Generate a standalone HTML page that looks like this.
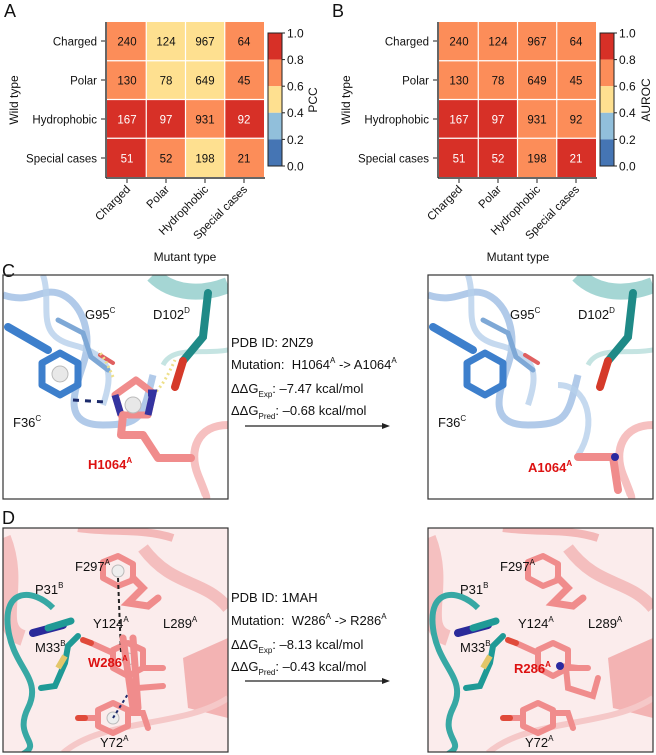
<!DOCTYPE html>
<html><head><meta charset="utf-8"><style>
html,body{margin:0;padding:0;background:#fff}
svg{display:block}
text{font-family:"Liberation Sans",Arial,sans-serif}
</style></head><body>
<svg width="656" height="755" viewBox="0 0 656 755" xmlns="http://www.w3.org/2000/svg">
<defs>
<g id="cbar">
<rect x="0" y="0" width="14" height="26.6" fill="#d73027"/>
<rect x="0" y="26.6" width="14" height="26.6" fill="#fc8d59"/>
<rect x="0" y="53.2" width="14" height="26.6" fill="#fee090"/>
<rect x="0" y="79.8" width="14" height="26.6" fill="#91bfdb"/>
<rect x="0" y="106.4" width="14" height="26.6" fill="#4575b4"/>
<rect x="0" y="0" width="14" height="133" fill="none" stroke="#222" stroke-width="1"/>
<g stroke="#222"><line x1="14" y1="0" x2="17" y2="0"/><line x1="14" y1="26.6" x2="17" y2="26.6"/><line x1="14" y1="53.2" x2="17" y2="53.2"/><line x1="14" y1="79.8" x2="17" y2="79.8"/><line x1="14" y1="106.4" x2="17" y2="106.4"/><line x1="14" y1="133" x2="17" y2="133"/></g>
<g font-size="12" fill="#111"><text x="19" y="4.5">1.0</text><text x="19" y="31">0.8</text><text x="19" y="57.5">0.6</text><text x="19" y="84">0.4</text><text x="19" y="111">0.2</text><text x="19" y="137.5">0.0</text></g>
</g>
<g id="axes">
<g font-size="11.5" fill="#111" text-anchor="end">
<text x="97" y="45.5">Charged</text><text x="97" y="84.5">Polar</text><text x="97" y="123.5">Hydrophobic</text><text x="97" y="162.5">Special cases</text>
</g>
<g stroke="#222"><line x1="101" y1="41" x2="105" y2="41"/><line x1="101" y1="80" x2="105" y2="80"/><line x1="101" y1="119" x2="105" y2="119"/><line x1="101" y1="158" x2="105" y2="158"/>
<line x1="127" y1="179" x2="127" y2="183"/><line x1="166" y1="179" x2="166" y2="183"/><line x1="205" y1="179" x2="205" y2="183"/><line x1="244" y1="179" x2="244" y2="183"/></g>
<line x1="106" y1="22" x2="106" y2="178" stroke="#333" stroke-width="1.5"/>
<line x1="106" y1="178" x2="265" y2="178" stroke="#333" stroke-width="1.5"/>
<g font-size="11.5" fill="#111" text-anchor="end">
<text transform="translate(131,190) rotate(-45)">Charged</text>
<text transform="translate(170,190) rotate(-45)">Polar</text>
<text transform="translate(209,190) rotate(-45)">Hydrophobic</text>
<text transform="translate(248,190) rotate(-45)">Special cases</text>
</g>
<text transform="translate(18,100) rotate(-90)" font-size="12" text-anchor="middle" fill="#111">Wild type</text>
</g>
</defs>

<!-- Panel A -->
<text x="4" y="17" font-size="18" fill="#111">A</text>
<g>
<rect x="107" y="22" width="39.25" height="38.75" fill="#fc8d59"/><rect x="146.25" y="22" width="39.25" height="38.75" fill="#fee090"/><rect x="185.5" y="22" width="39.25" height="38.75" fill="#fee090"/><rect x="224.75" y="22" width="39.25" height="38.75" fill="#fc8d59"/>
<rect x="107" y="60.75" width="39.25" height="38.75" fill="#fc8d59"/><rect x="146.25" y="60.75" width="39.25" height="38.75" fill="#fee090"/><rect x="185.5" y="60.75" width="39.25" height="38.75" fill="#fee090"/><rect x="224.75" y="60.75" width="39.25" height="38.75" fill="#fc8d59"/>
<rect x="107" y="99.5" width="39.25" height="38.75" fill="#d73027"/><rect x="146.25" y="99.5" width="39.25" height="38.75" fill="#d73027"/><rect x="185.5" y="99.5" width="39.25" height="38.75" fill="#fc8d59"/><rect x="224.75" y="99.5" width="39.25" height="38.75" fill="#d73027"/>
<rect x="107" y="138.25" width="39.25" height="38.75" fill="#d73027"/><rect x="146.25" y="138.25" width="39.25" height="38.75" fill="#fc8d59"/><rect x="185.5" y="138.25" width="39.25" height="38.75" fill="#fee090"/><rect x="224.75" y="138.25" width="39.25" height="38.75" fill="#fc8d59"/>
<g stroke="#fff" stroke-width="1.2"><line x1="146.25" y1="22" x2="146.25" y2="177"/><line x1="185.5" y1="22" x2="185.5" y2="177"/><line x1="224.75" y1="22" x2="224.75" y2="177"/><line x1="107" y1="60.75" x2="264" y2="60.75"/><line x1="107" y1="99.5" x2="264" y2="99.5"/><line x1="107" y1="138.25" x2="264" y2="138.25"/></g>
<g font-size="11.5" text-anchor="middle" fill="#111">
<text x="127" y="45.5">240</text><text x="166" y="45.5">124</text><text x="205" y="45.5">967</text><text x="244" y="45.5">64</text>
<text x="127" y="84.5">130</text><text x="166" y="84.5">78</text><text x="205" y="84.5">649</text><text x="244" y="84.5">45</text>
<text x="127" y="123.5" fill="#fff">167</text><text x="166" y="123.5" fill="#fff">97</text><text x="205" y="123.5">931</text><text x="244" y="123.5" fill="#fff">92</text>
<text x="127" y="162.5" fill="#fff">51</text><text x="166" y="162.5">52</text><text x="205" y="162.5">198</text><text x="244" y="162.5">21</text>
</g>
<use href="#axes"/>
<use href="#cbar" x="268" y="33"/>
<text transform="translate(317,100) rotate(-90)" font-size="12" text-anchor="middle" fill="#111">PCC</text>
<text x="185" y="261" font-size="12" text-anchor="middle" fill="#111">Mutant type</text>
</g>

<!-- Panel B -->
<text x="332" y="17" font-size="18" fill="#111">B</text>
<g transform="translate(332,0)">
<rect x="107" y="22" width="157" height="77.5" fill="#fc8d59"/>
<rect x="107" y="99.5" width="39.25" height="38.75" fill="#d73027"/><rect x="146.25" y="99.5" width="39.25" height="38.75" fill="#d73027"/><rect x="185.5" y="99.5" width="39.25" height="38.75" fill="#fc8d59"/><rect x="224.75" y="99.5" width="39.25" height="38.75" fill="#fc8d59"/>
<rect x="107" y="138.25" width="39.25" height="38.75" fill="#d73027"/><rect x="146.25" y="138.25" width="39.25" height="38.75" fill="#d73027"/><rect x="185.5" y="138.25" width="39.25" height="38.75" fill="#fc8d59"/><rect x="224.75" y="138.25" width="39.25" height="38.75" fill="#d73027"/>
<g stroke="#fff" stroke-width="1.2"><line x1="146.25" y1="22" x2="146.25" y2="177"/><line x1="185.5" y1="22" x2="185.5" y2="177"/><line x1="224.75" y1="22" x2="224.75" y2="177"/><line x1="107" y1="60.75" x2="264" y2="60.75"/><line x1="107" y1="99.5" x2="264" y2="99.5"/><line x1="107" y1="138.25" x2="264" y2="138.25"/></g>
<g font-size="11.5" text-anchor="middle" fill="#111">
<text x="127" y="45.5">240</text><text x="166" y="45.5">124</text><text x="205" y="45.5">967</text><text x="244" y="45.5">64</text>
<text x="127" y="84.5">130</text><text x="166" y="84.5">78</text><text x="205" y="84.5">649</text><text x="244" y="84.5">45</text>
<text x="127" y="123.5" fill="#fff">167</text><text x="166" y="123.5" fill="#fff">97</text><text x="205" y="123.5">931</text><text x="244" y="123.5">92</text>
<text x="127" y="162.5" fill="#fff">51</text><text x="166" y="162.5" fill="#fff">52</text><text x="205" y="162.5">198</text><text x="244" y="162.5" fill="#fff">21</text>
</g>
<use href="#axes"/>
</g>
<use href="#cbar" x="600" y="33"/>
<text transform="translate(650,100) rotate(-90)" font-size="12" text-anchor="middle" fill="#111">AUROC</text>
<text x="518" y="261" font-size="12" text-anchor="middle" fill="#111">Mutant type</text>

<!-- Panel C -->
<text x="2" y="277" font-size="18" fill="#111">C</text>
<defs>
<clipPath id="bx"><rect x="0" y="0" width="225" height="224"/></clipPath>
<g id="cbase">
<path d="M0,20 C30,30 40,10 60,20 S90,60 80,90 S60,150 100,150 S140,140 150,100" fill="none" stroke="#9dbde3" stroke-width="7" opacity="0.8"/>
<path d="M40,0 C50,30 30,60 70,70 S110,100 100,130" fill="none" stroke="#b6cfeb" stroke-width="6" opacity="0.8"/>
<path d="M150,0 C170,20 200,20 225,10" fill="none" stroke="#7fc4c2" stroke-width="16" opacity="0.7"/>
<path d="M160,90 C170,70 200,80 225,75" fill="none" stroke="#c5e4e2" stroke-width="5"/>
<path d="M225,150 C195,150 185,175 195,200 S205,224 200,224" fill="none" stroke="#f4b0b0" stroke-width="8" opacity="0.8"/>
<path d="M5,52 L45,75" stroke="#3d7fcc" stroke-width="8" stroke-linecap="round"/>
<polygon points="57,78 75,88 75,110 57,120 39,110 39,88" fill="none" stroke="#3d7fcc" stroke-width="7" stroke-linejoin="round"/>
<path d="M55,45 L80,58 L88,82 L105,95" stroke="#7ea8d6" stroke-width="5" fill="none" stroke-linecap="round"/>
<path d="M97,80 L110,88" stroke="#e06060" stroke-width="4" stroke-linecap="round"/>
<path d="M205,18 L200,62 L180,86" stroke="#1f8a87" stroke-width="8" fill="none" stroke-linecap="round"/>
<path d="M180,86 L172,112" stroke="#d53a2a" stroke-width="8" stroke-linecap="round"/>
<text x="82" y="44" font-size="13" fill="#111">G95<tspan font-size="8" dy="-6">C</tspan></text>
<text x="150" y="44" font-size="13" fill="#111">D102<tspan font-size="8" dy="-6">D</tspan></text>
<text x="10" y="152" font-size="13" fill="#111">F36<tspan font-size="8" dy="-6">C</tspan></text>
</g>
</defs>
<g transform="translate(3,275)">
<g clip-path="url(#bx)"><use href="#cbase"/>
<circle cx="57" cy="99" r="8" fill="#e8e8e8" stroke="#bbb"/>
<path d="M70,125 L103,127" stroke="#1b2a6b" stroke-width="3" stroke-dasharray="6,6"/>
<path d="M110,102 C105,90 100,80 95,76" stroke="#eee08a" stroke-width="3" stroke-dasharray="2,3" fill="none"/>
<path d="M150,120 C160,110 165,100 172,85" stroke="#eee08a" stroke-width="3" stroke-dasharray="2,3" fill="none"/>
<polygon points="133,105 150,118 145,140 118,140 112,120" fill="none" stroke="#f08c8c" stroke-width="7" stroke-linejoin="round"/>
<path d="M145,118 L150,118 L145,140 M112,120 L118,140" stroke="#3434a0" stroke-width="7" fill="none"/>
<circle cx="130" cy="130" r="8" fill="#e8e8e8" stroke="#bbb"/>
<path d="M120,140 L118,160 L140,160 L155,183 L188,183" stroke="#f08c8c" stroke-width="8" fill="none" stroke-linecap="round" stroke-linejoin="round"/>
<text x="85" y="194" font-size="13" font-weight="bold" fill="#d11">H1064<tspan font-size="8" dy="-6">A</tspan></text>
</g>
<rect x="0" y="0" width="225" height="224" fill="none" stroke="#333" stroke-width="1.2"/>
</g>
<g transform="translate(428,275)">
<g clip-path="url(#bx)"><use href="#cbase"/>
<path d="M130,110 C160,110 170,150 150,180" fill="none" stroke="#b6cfeb" stroke-width="6" opacity="0.8"/>
<path d="M150,182 L185,182 L190,215" stroke="#f08c8c" stroke-width="8" fill="none" stroke-linecap="round" stroke-linejoin="round"/>
<circle cx="187" cy="182" r="4" fill="#2a2aa0"/>
<text x="100" y="197" font-size="13" font-weight="bold" fill="#d11">A1064<tspan font-size="8" dy="-6">A</tspan></text>
</g>
<rect x="0" y="0" width="225" height="224" fill="none" stroke="#333" stroke-width="1.2"/>
</g>
<g font-size="13" fill="#111">
<text x="231" y="347">PDB ID: 2NZ9</text>
<text x="231" y="369">Mutation:&#160; H1064<tspan font-size="8" dy="-6">A</tspan><tspan dy="6"> -&gt; A1064</tspan><tspan font-size="8" dy="-6">A</tspan></text>
<text x="231" y="393">ΔΔG<tspan font-size="8" dy="4">Exp</tspan><tspan dy="-4">: –7.47 kcal/mol</tspan></text>
<text x="231" y="415">ΔΔG<tspan font-size="8" dy="4">Pred</tspan><tspan dy="-4">: –0.68 kcal/mol</tspan></text>
</g>
<line x1="245" y1="426" x2="384" y2="426" stroke="#222" stroke-width="1.2"/>
<polygon points="390,426 382,423 382,429" fill="#222"/>

<!-- Panel D -->
<text x="2" y="524" font-size="18" fill="#111">D</text>
<defs>
<g id="dbase">
<rect x="0" y="0" width="225" height="226" fill="#fbecec"/>
<path d="M0,10 C20,60 -10,100 20,110" fill="none" stroke="#f5c0c0" stroke-width="16"/>
<path d="M140,20 C170,60 200,50 225,80" fill="none" stroke="#f3b3b3" stroke-width="12" opacity="0.8"/>
<path d="M180,130 L225,110 L225,190 L185,180 Z" fill="#f1a5a5" opacity="0.8"/>
<path d="M60,225 C100,190 180,200 225,170" fill="none" stroke="#f5c8c8" stroke-width="6"/>
<path d="M75,0 C110,5 140,0 170,10" fill="none" stroke="#f3b8b8" stroke-width="8"/>
<path d="M50,80 C30,60 0,60 5,100 S40,150 25,180 S40,215 20,226" fill="none" stroke="#37a8a4" stroke-width="6"/>
<path d="M30,105 L60,97" stroke="#2a2a9a" stroke-width="8" stroke-linecap="round"/>
<path d="M45,100 L68,93" stroke="#1f9a96" stroke-width="7" stroke-linecap="round"/>
<path d="M75,108 L65,118 L62,135 L52,158 L38,160" stroke="#1f9a96" stroke-width="6" fill="none" stroke-linecap="round"/>
<path d="M62,128 L55,140" stroke="#e3c66a" stroke-width="6"/>
<polygon points="100,34 115,28 130,36 130,52 115,58 100,50" fill="none" stroke="#f08c8c" stroke-width="6" stroke-linejoin="round"/>
<path d="M130,50 L140,60 L125,75 L145,78 L155,70" stroke="#f08c8c" stroke-width="7" fill="none" stroke-linecap="round"/>
<polygon points="110,122 125,115 140,122 140,140 125,148 110,140" fill="none" stroke="#f08c8c" stroke-width="6" stroke-linejoin="round"/>
<path d="M110,125 L88,115 M140,140 L160,140" stroke="#f08c8c" stroke-width="6" stroke-linecap="round"/>
<path d="M88,115 L80,112" stroke="#e04a3a" stroke-width="6" stroke-linecap="round"/>
<polygon points="95,182 110,175 125,182 125,198 110,205 95,198" fill="none" stroke="#f08c8c" stroke-width="6" stroke-linejoin="round"/>
<path d="M95,190 L82,190 M125,185 L140,185 L145,200" stroke="#f08c8c" stroke-width="6" stroke-linecap="round" fill="none"/>
<path d="M82,190 L75,190" stroke="#e04a3a" stroke-width="6" stroke-linecap="round"/>
<g font-size="13" fill="#111">
<text x="72" y="43">F297<tspan font-size="8" dy="-6">A</tspan></text>
<text x="32" y="66">P31<tspan font-size="8" dy="-6">B</tspan></text>
<text x="90" y="100">Y124<tspan font-size="8" dy="-6">A</tspan></text>
<text x="160" y="100">L289<tspan font-size="8" dy="-6">A</tspan></text>
<text x="32" y="124">M33<tspan font-size="8" dy="-6">B</tspan></text>
<text x="97" y="219">Y72<tspan font-size="8" dy="-6">A</tspan></text>
</g>
</g>
</defs>
<g transform="translate(3,528)">
<g clip-path="url(#bx)"><use href="#dbase"/>
<circle cx="115" cy="43" r="6" fill="#eee" stroke="#bbb"/>
<circle cx="125" cy="131" r="6" fill="#eee" stroke="#bbb"/>
<circle cx="110" cy="190" r="6" fill="#eee" stroke="#bbb"/>
<path d="M115,50 L118,125" stroke="#222" stroke-width="2" stroke-dasharray="4,3"/>
<path d="M110,190 L130,158" stroke="#1b2a6b" stroke-width="2" stroke-dasharray="3,3"/>
<path d="M120,110 L130,180 M130,110 L135,180" stroke="#f08c8c" stroke-width="7" stroke-linecap="round"/>
<path d="M135,160 L160,158" stroke="#f08c8c" stroke-width="6" stroke-linecap="round"/>
<text x="85" y="139" font-size="13" font-weight="bold" fill="#d11">W286<tspan font-size="8" dy="-6">A</tspan></text>
</g>
<rect x="0" y="0" width="225" height="224" fill="none" stroke="#333" stroke-width="1.2"/>
</g>
<g transform="translate(428,528)">
<g clip-path="url(#bx)"><use href="#dbase"/>
<path d="M132,138 L150,140 M138,140 L140,160 L165,168 L170,150" stroke="#f08c8c" stroke-width="6" fill="none" stroke-linecap="round"/>
<circle cx="132" cy="138" r="4" fill="#2a2aa0"/>
<text x="86" y="145" font-size="13" font-weight="bold" fill="#d11">R286<tspan font-size="8" dy="-6">A</tspan></text>
</g>
<rect x="0" y="0" width="225" height="224" fill="none" stroke="#333" stroke-width="1.2"/>
</g>
<g font-size="13" fill="#111">
<text x="231" y="602">PDB ID: 1MAH</text>
<text x="231" y="625">Mutation:&#160; W286<tspan font-size="8" dy="-6">A</tspan><tspan dy="6"> -&gt; R286</tspan><tspan font-size="8" dy="-6">A</tspan></text>
<text x="231" y="649">ΔΔG<tspan font-size="8" dy="4">Exp</tspan><tspan dy="-4">: –8.13 kcal/mol</tspan></text>
<text x="231" y="671">ΔΔG<tspan font-size="8" dy="4">Pred</tspan><tspan dy="-4">: –0.43 kcal/mol</tspan></text>
</g>
<line x1="245" y1="681" x2="384" y2="681" stroke="#222" stroke-width="1.2"/>
<polygon points="390,681 382,678 382,684" fill="#222"/>
</svg>
</body></html>
